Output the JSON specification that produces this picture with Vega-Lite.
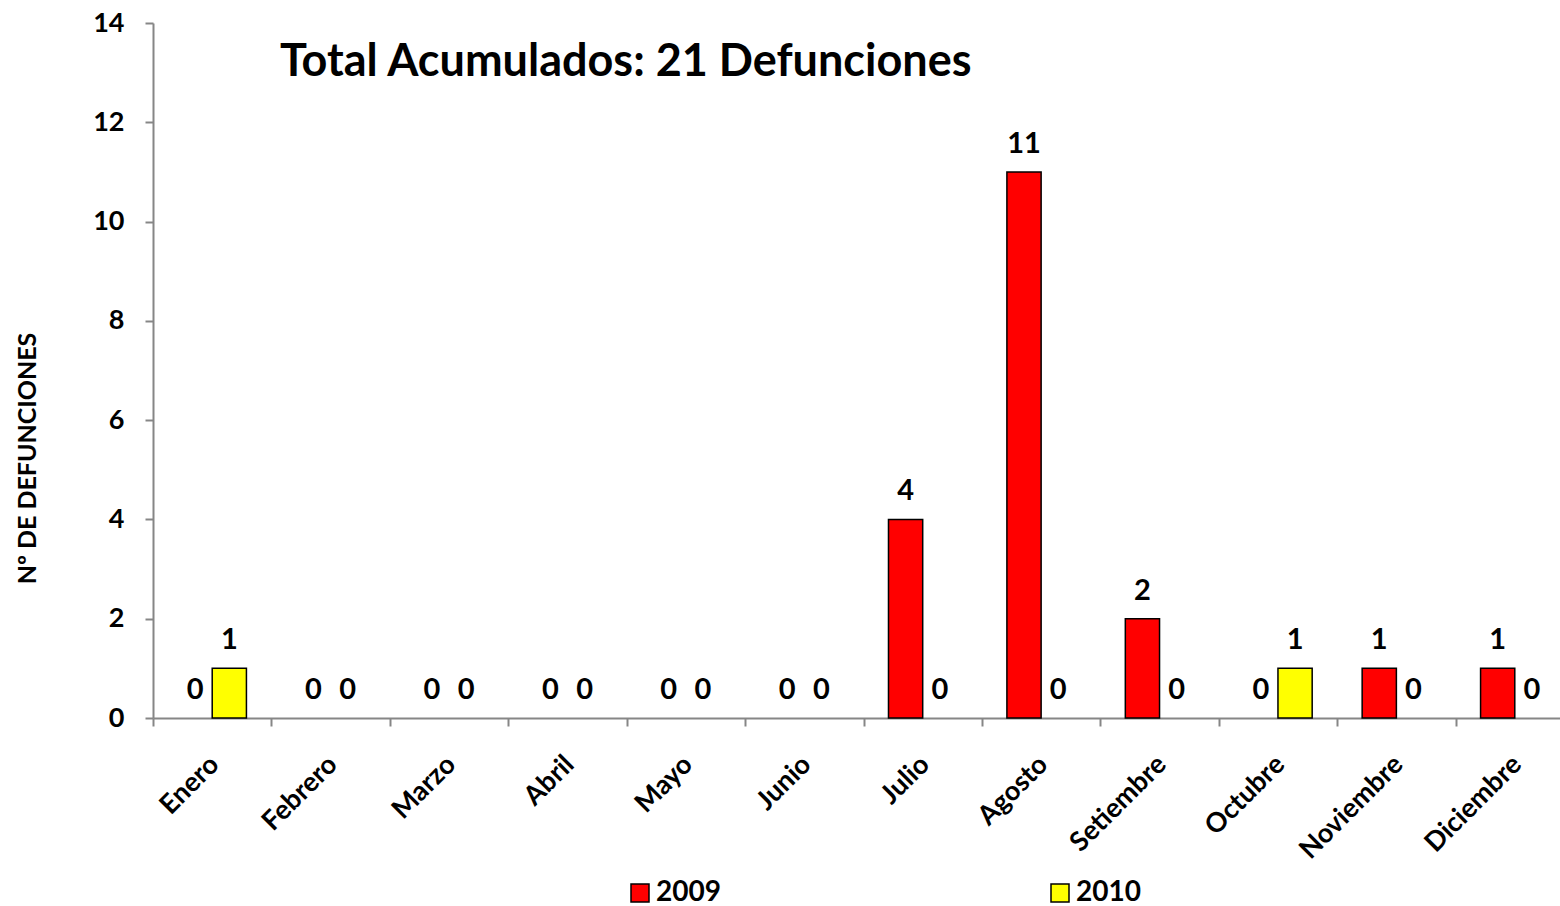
{
  "$schema": "https://vega.github.io/schema/vega-lite/v6.json",
  "width": 1421,
  "height": 695,
  "autosize": {"type": "none"},
  "padding": {"left": 153, "top": 23, "right": -14, "bottom": 188},
  "config": {"view": {"stroke": null}, "font": "Lato"},
  "title": {
    "text": "Total Acumulados: 21 Defunciones",
    "orient": "top",
    "anchor": "start",
    "frame": "group",
    "baseline": "alphabetic",
    "offset": -112,
    "dx": 127,
    "fontSize": 45,
    "fontWeight": "bold",
    "color": "#000000"
  },
  "data": {"values": [
    {"mes": "Enero", "anio": "2009", "valor": 0},
    {"mes": "Enero", "anio": "2010", "valor": 1},
    {"mes": "Febrero", "anio": "2009", "valor": 0},
    {"mes": "Febrero", "anio": "2010", "valor": 0},
    {"mes": "Marzo", "anio": "2009", "valor": 0},
    {"mes": "Marzo", "anio": "2010", "valor": 0},
    {"mes": "Abril", "anio": "2009", "valor": 0},
    {"mes": "Abril", "anio": "2010", "valor": 0},
    {"mes": "Mayo", "anio": "2009", "valor": 0},
    {"mes": "Mayo", "anio": "2010", "valor": 0},
    {"mes": "Junio", "anio": "2009", "valor": 0},
    {"mes": "Junio", "anio": "2010", "valor": 0},
    {"mes": "Julio", "anio": "2009", "valor": 4},
    {"mes": "Julio", "anio": "2010", "valor": 0},
    {"mes": "Agosto", "anio": "2009", "valor": 11},
    {"mes": "Agosto", "anio": "2010", "valor": 0},
    {"mes": "Setiembre", "anio": "2009", "valor": 2},
    {"mes": "Setiembre", "anio": "2010", "valor": 0},
    {"mes": "Octubre", "anio": "2009", "valor": 0},
    {"mes": "Octubre", "anio": "2010", "valor": 1},
    {"mes": "Noviembre", "anio": "2009", "valor": 1},
    {"mes": "Noviembre", "anio": "2010", "valor": 0},
    {"mes": "Diciembre", "anio": "2009", "valor": 1},
    {"mes": "Diciembre", "anio": "2010", "valor": 0}
  ]},
  "encoding": {
    "x": {
      "field": "mes", "type": "nominal",
      "sort": ["Enero", "Febrero", "Marzo", "Abril", "Mayo", "Junio", "Julio", "Agosto", "Setiembre", "Octubre", "Noviembre", "Diciembre"],
      "scale": {"paddingInner": 0, "paddingOuter": 0},
      "axis": {
        "title": null,
        "tickBand": "extent",
        "labelAngle": -45,
        "labelAlign": "right",
        "labelBaseline": "middle",
        "labelFontSize": 27,
        "labelFontWeight": "bold",
        "labelColor": "#000000",
        "labelPadding": 34,
        "labelOffset": 2,
        "domainColor": "#868686",
        "domainWidth": 2,
        "tickColor": "#868686",
        "tickWidth": 2,
        "tickSize": 8
      }
    },
    "xOffset": {"field": "anio", "type": "nominal", "scale": {"paddingInner": 0, "paddingOuter": 0.73}},
    "y": {
      "field": "valor", "type": "quantitative",
      "scale": {"domain": [0, 14], "nice": false},
      "axis": {
        "title": "Nº DE DEFUNCIONES",
        "titleFontSize": 25,
        "titleFontWeight": "bold",
        "titleColor": "#000000",
        "titleAngle": -90,
        "titleAlign": "center",
        "titleBaseline": "middle",
        "titleX": -126,
        "titleY": 435,
        "values": [0, 2, 4, 6, 8, 10, 12, 14],
        "grid": false,
        "labelFontSize": 27,
        "labelFontWeight": "bold",
        "labelColor": "#000000",
        "labelPadding": 21,
        "domainColor": "#868686",
        "domainWidth": 2,
        "tickColor": "#868686",
        "tickWidth": 2,
        "tickSize": 8
      }
    }
  },
  "layer": [
    {
      "mark": {"type": "bar", "stroke": "#000000", "strokeWidth": 1.5},
      "encoding": {
        "strokeOpacity": {"condition": {"test": "datum.valor == 0", "value": 0}, "value": 1},
        "color": {
          "field": "anio", "type": "nominal",
          "scale": {"domain": ["2009", "2010"], "range": ["#FF0000", "#FFFF00"]},
          "legend": {
            "title": null,
            "orient": "none",
            "legendX": 473,
            "legendY": 856,
            "direction": "horizontal",
            "padding": 0,
            "symbolType": "square",
            "symbolSize": 324,
            "symbolStrokeColor": "#000000",
            "symbolStrokeWidth": 1.5,
            "symbolOpacity": 1,
            "labelFontSize": 28,
            "labelFontWeight": "bold",
            "labelColor": "#000000",
            "labelOffset": 2,
            "columnPadding": 325
          }
        }
      }
    },
    {
      "mark": {"type": "text", "baseline": "alphabetic", "dy": -19, "fontSize": 29, "fontWeight": "bold", "color": "#000000"},
      "encoding": {
        "text": {"field": "valor", "type": "quantitative"}
      }
    }
  ]
}
